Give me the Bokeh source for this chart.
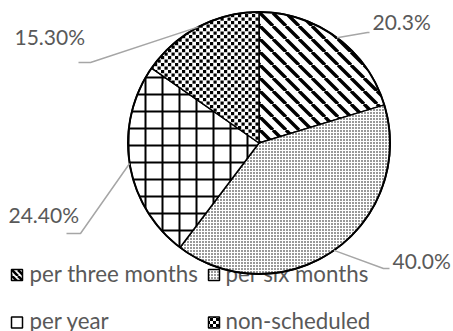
import base64
import math

from bokeh.core.properties import value
from bokeh.embed import file_html
from bokeh.models import ImageURLTexture, Range1d
from bokeh.plotting import figure
from bokeh.resources import INLINE

# Survey answers: how often maintenance is scheduled
categories = ["per three months", "per six months", "per year", "non-scheduled"]
shares = [20.3, 40.0, 24.4, 15.3]
share_labels = ["20.3%", "40.0%", "24.40%", "15.30%"]

W, H = 453, 331
FONT = value("Lato")
TEXT_COLOR = "#595959"
LEADER_COLOR = "#a6a6a6"
TEXT_SHIFT = 9  # the svg text baseline sits a little low; lift it


# pie geometry (screen y measured downward, converted via sy)
def sy(py):
    return H - py


def ty(py):
    return H - py + TEXT_SHIFT


CX, CY, R = 258.5, sy(142.5), 131


def svg_tile(size, body):
    svg = (f'<svg xmlns="http://www.w3.org/2000/svg" width="{size}" '
           f'height="{size}" viewBox="0 0 {size} {size}">{body}</svg>')
    data = base64.b64encode(svg.encode()).decode()
    return ImageURLTexture(url="data:image/svg+xml;base64," + data,
                           repetition="repeat")


# office-style pattern fills
textures = {
    # 45 degree black stripes running top-left to bottom-right
    "stripes": svg_tile(13, '<path d="M-13 0L0 13M0 0L13 13M13 0L26 13" '
                            'stroke="black" stroke-width="3.4" fill="none"/>'),
    "stripes_small": svg_tile(6, '<path d="M-6 0L0 6M0 0L6 6M6 0L12 6" '
                                 'stroke="black" stroke-width="2.6" fill="none"/>'),
    # staggered small squares
    "checker": svg_tile(7, '<rect x="0" y="0" width="3.2" height="3.2"/>'
                           '<rect x="3.5" y="3.5" width="3.2" height="3.2"/>'),
    "checker_small": svg_tile(6, '<rect x="0" y="0" width="3" height="3"/>'
                                 '<rect x="3" y="3" width="3" height="3"/>'),
}

hatch_patterns = ["stripes", ".", "+", "checker"]
legend_patterns = ["stripes_small", ".", "+", "checker_small"]
hatch_scales = [13, 3, 17, 7]
hatch_weights = [3.4, 0.5, 2, 3]


p = figure(width=W, height=H, output_backend="svg", toolbar_location=None,
           x_range=Range1d(0, W), y_range=Range1d(0, H), min_border=0,
           x_axis_location=None, y_axis_location=None)
p.grid.visible = False
p.outline_line_color = None
p.background_fill_color = "white"
p.border_fill_color = "white"

# --- legend (drawn first so the pie sits on top of it) ---
leg_x_box = [16.5, 213.5, 16.5, 213.5]
leg_y_box = [sy(274.5), sy(274.5), sy(322), sy(322)]
leg_x_txt = [29, 225, 29, 225]
leg_y_txt = [ty(282), ty(282), ty(329), ty(329)]
leg_scales = [6, 3, 17, 6]
leg_weights = [2.6, 0.6, 2, 3]
for i in range(len(categories)):
    p.rect(x=[leg_x_box[i]], y=[leg_y_box[i]], width=11, height=11,
           fill_color="white", line_color="black", line_width=1.5,
           hatch_pattern=dict(value=legend_patterns[i]), hatch_extra=textures,
           hatch_color="black", hatch_scale=leg_scales[i],
           hatch_weight=leg_weights[i])
p.text(x=leg_x_txt, y=leg_y_txt, text=categories, text_font=FONT,
       text_font_size="22.3px", text_color=TEXT_COLOR,
       text_baseline="alphabetic", text_align="left")

# --- wedges, clockwise from 12 o'clock ---
total = sum(shares)
starts, ends, mids = [], [], []
acc = 0.0
for s in shares:
    a0 = math.pi / 2 - 2 * math.pi * acc / total
    a1 = math.pi / 2 - 2 * math.pi * (acc + s) / total
    starts.append(a0)
    ends.append(a1)
    mids.append((a0 + a1) / 2)
    acc += s

for i in range(len(shares)):
    p.wedge(x=[CX], y=[CY], radius=R, start_angle=[starts[i]],
            end_angle=[ends[i]], direction="clock", fill_color="white",
            hatch_pattern=dict(value=hatch_patterns[i]), hatch_extra=textures,
            hatch_color="black", hatch_scale=hatch_scales[i],
            hatch_weight=hatch_weights[i],
            line_color="black", line_width=1.5)
p.circle(x=[CX], y=[CY], radius=R, fill_color=None, line_color="black",
         line_width=2)

# --- leader lines and value labels ---
elbows = [(367, 32), (383, 268), (80, 233), (90, 62)]
ends_pt = [(369, 32), (389, 268), (66, 233), (78, 62)]
xs, ys = [], []
for m, (ex, ey), (tx, tyy) in zip(mids, elbows, ends_pt):
    ax = CX + R * math.cos(m)
    ay = CY + R * math.sin(m)
    xs.append([ax, ex, tx])
    ys.append([ay, sy(ey), sy(tyy)])
p.multi_line(xs=xs, ys=ys, line_color=LEADER_COLOR, line_width=1.5)

label_x = [372, 392, 8, 14]
label_y = [ty(30), ty(269), ty(223), ty(45)]
p.text(x=label_x, y=label_y, text=share_labels, text_font=FONT,
       text_font_size="21px", text_color=TEXT_COLOR,
       text_baseline="alphabetic", text_align="left")

open("out.html", "w").write(file_html(p, INLINE))
